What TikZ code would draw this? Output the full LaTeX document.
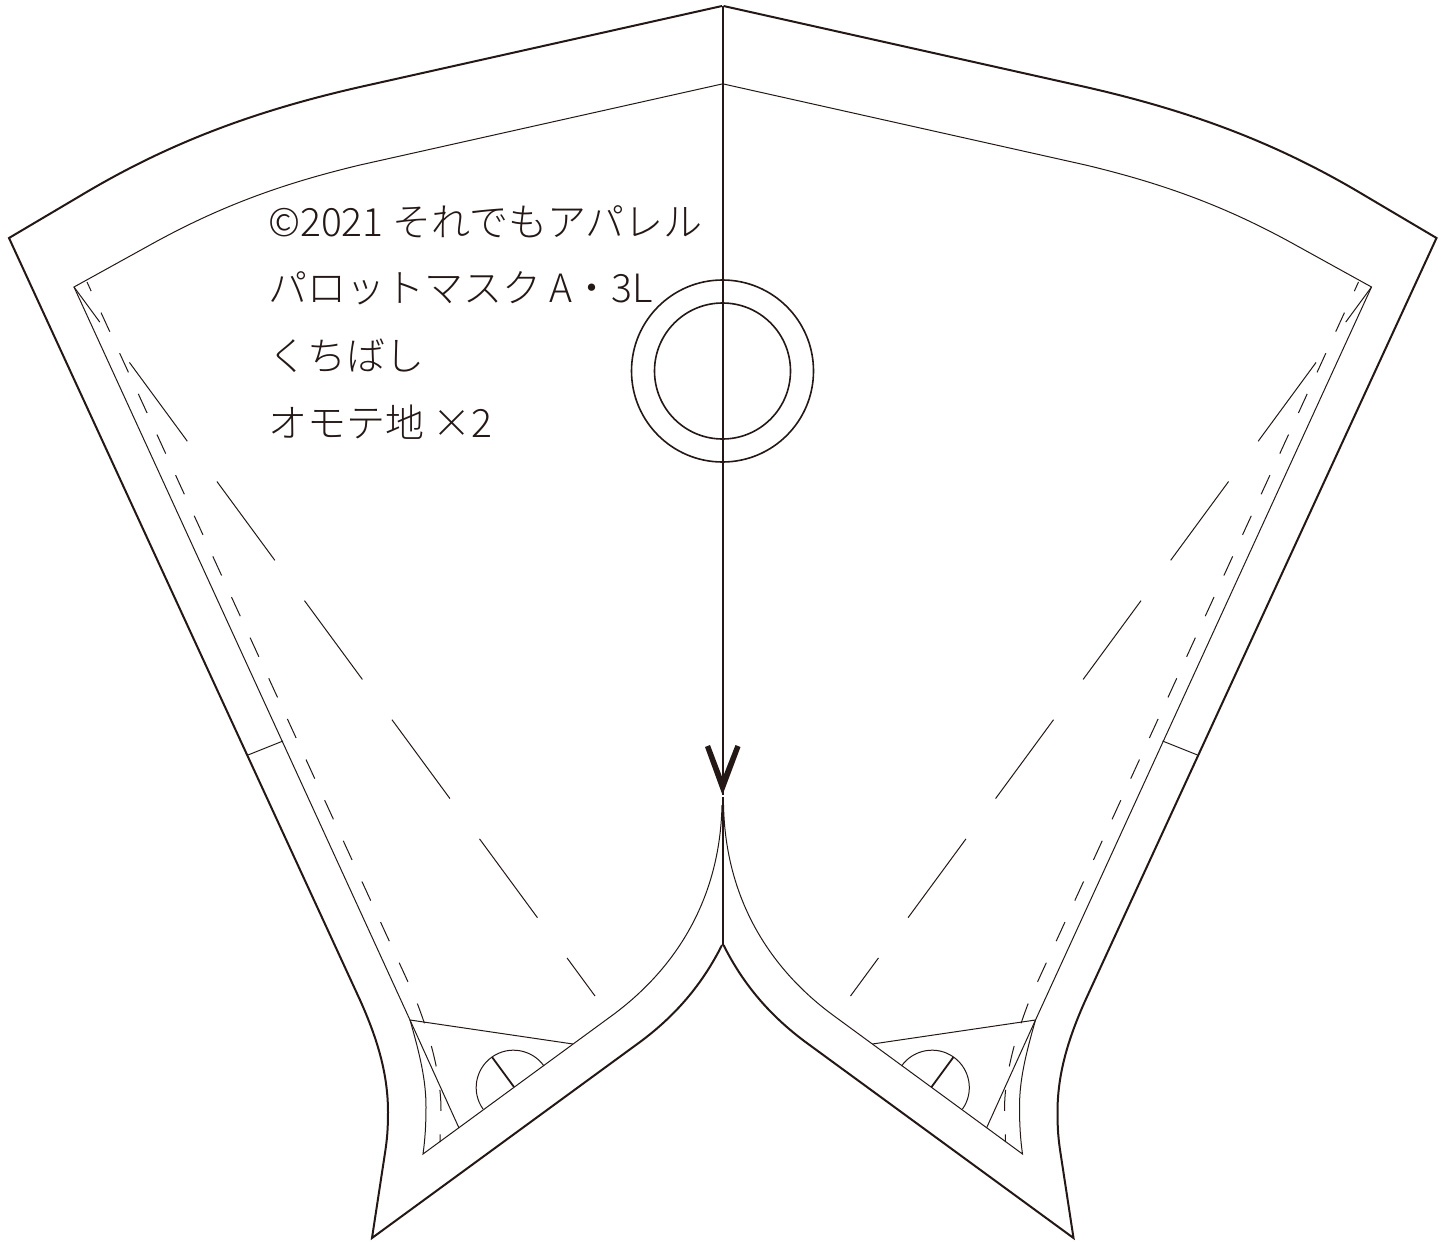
\documentclass[tikz,border=0pt]{standalone}
\usepackage{fontspec}
\newfontfamily\jpfont{Noto Sans CJK JP Light}
\definecolor{ink}{HTML}{231815}
\tikzset{
  cutline/.style={draw=ink,line width=2pt,line join=miter},
  sewline/.style={draw=ink,line width=1pt},
  dashsew/.style={draw=ink,line width=1pt,dash pattern=on 21pt off 23.7pt,dash phase=11pt},
  grainline/.style={draw=ink,line width=1pt,dash pattern=on 97.8pt off 50pt,dash phase=54.2pt},
  label/.style={anchor=base west,inner sep=0pt,text=ink,font=\jpfont\fontsize{39}{39}\selectfont}
}
\newcommand{\halfmask}{%
  \draw[cutline] (722,6) -- (360,87) .. controls (250,112) and (165,145) .. (80,196) -- (9,238)
    -- (360,1000) .. controls (378,1040) and (388,1075) .. (388,1112)
    .. controls (388,1130) and (387,1140) .. (385,1153) -- (372,1238)
    -- (640,1042) .. controls (675,1016) and (702,985) .. (722,945);
  \draw[sewline] (722,84) -- (360,165) .. controls (285,183) and (222,205) .. (150,245) -- (74,287)
    -- (410,1020) .. controls (420,1055) and (426,1080) .. (426,1107)
    .. controls (426,1125) and (425,1140) .. (423,1154) -- (610,1017)
    .. controls (675,970) and (720,900) .. (722,805);
  \draw[sewline] (410,1020) -- (573,1044);
  \draw[sewline] (410,1020) -- (459,1128);
  \draw[sewline] (483,1109) .. controls (471.1,1092.2) and (475.2,1068.9) .. (492,1057)
    .. controls (508.8,1045.1) and (532.1,1049.2) .. (544,1066);
  \draw[draw=ink,line width=1.8pt] (514,1087) -- (492,1057);
  \draw[sewline] (248,755) -- (283,741);
  \draw[dashsew] (87,282) -- (414,995) .. controls (430,1035) and (441,1075) .. (441,1110) -- (440,1142);
  \draw[grainline] (74,287) -- (595,996);
}
\begin{document}
\begin{tikzpicture}[x=1pt,y=-1pt]
  \useasboundingbox (0,0) rectangle (1449,1242);
  \halfmask
  \begin{scope}[shift={(1445.5,0)},xscale=-1]
    \halfmask
  \end{scope}
  \draw[cutline] (722.5,6) -- (722.5,795);
  \draw[cutline] (722.5,797) -- (722.5,945);
  \draw[draw=ink,line width=1.6pt] (722.5,371) circle[radius=91];
  \draw[draw=ink,line width=1.6pt] (722.5,371) circle[radius=68];
  \fill[ink] (705,747) -- (710,745) -- (722.5,778) -- (735.5,745) -- (740.5,747) -- (722.5,795) -- cycle;
  \node[label] (t1) at (268,236) {©2021 それでもアパレル};
  \node[label] (t2) at (268,302) {パロットマスク A・3L};
  \node[label] (t3) at (268,370) {くちばし};
  \node[label] (t4) at (268,437) {オモテ地 ×2};
\end{tikzpicture}
\end{document}
